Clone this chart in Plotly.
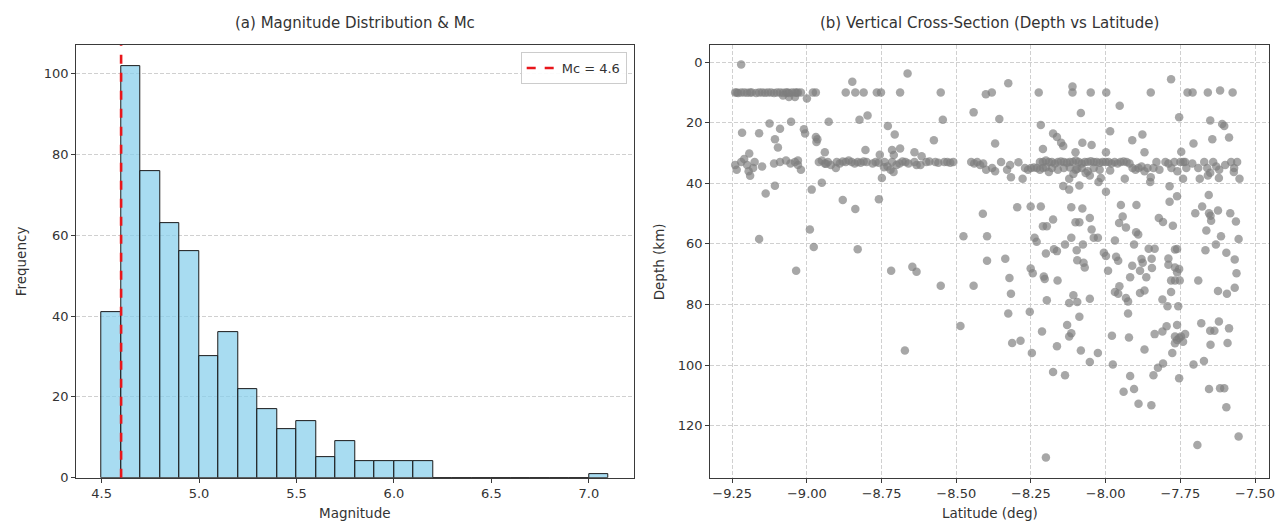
import plotly.graph_objects as go

# ---------------- (a) Magnitude histogram ----------------
BIN_LEFT = [4.5, 4.6, 4.7, 4.8, 4.9, 5.0, 5.1, 5.2, 5.3, 5.4, 5.5, 5.6, 5.7,
            5.8, 5.9, 6.0, 6.1, 6.2, 6.3, 6.4, 6.5, 6.6, 6.7, 6.8, 6.9, 7.0]
COUNTS = [41, 102, 76, 63, 56, 30, 36, 22, 17, 12, 14, 5, 9,
          4, 4, 4, 4, 0, 0, 0, 0, 0, 0, 0, 0, 1]
BIN_WIDTH = 0.1
MC = 4.6
MAG_TICKS = [4.5, 5.0, 5.5, 6.0, 6.5, 7.0]
FREQ_TICKS = [0, 20, 40, 60, 80, 100]

# ---------------- (b) Depth vs latitude (lat, depth km) ----------------
WEST_BAND10 = [(-9.22, 0.8), (-9.24, 10), (-9.235, 10), (-9.23, 10.2), (-9.22, 10), (-9.21, 10),
               (-9.20, 10.1), (-9.19, 10), (-9.185, 10), (-9.17, 10.2), (-9.16, 10), (-9.15, 10),
               (-9.14, 10.1), (-9.13, 10), (-9.12, 10), (-9.11, 10.2), (-9.10, 10), (-9.09, 10),
               (-9.08, 10.1), (-9.07, 10), (-9.065, 10), (-9.06, 10.2), (-9.05, 10), (-9.04, 10),
               (-9.035, 10.1), (-9.03, 10), (-9.02, 10), (-9.08, 11), (-9.06, 11.5), (-9.04, 11.5),
               (-9.00, 12), (-8.98, 10), (-8.97, 10)]
WEST_MID = [(-9.217, 23.3), (-9.16, 23.5), (-9.125, 20.3), (-9.09, 22), (-9.053, 19.7),
            (-9.107, 25.5), (-9.097, 28.2), (-9.01, 22.2), (-9.006, 23.6), (-8.97, 24.7),
            (-8.965, 25.5), (-8.968, 26.4), (-8.927, 19.7)]
WEST_BAND33 = [(-9.24, 34), (-9.235, 35.5), (-9.22, 33), (-9.21, 32), (-9.2, 34), (-9.195, 36),
               (-9.19, 37.5), (-9.18, 35), (-9.175, 33), (-9.15, 34.5), (-9.193, 30.2),
               (-9.11, 33.5), (-9.09, 33), (-9.07, 32.5), (-9.055, 33.5), (-9.04, 33),
               (-9.03, 34), (-9.02, 35.5), (-9.03, 32.5)]
WEST_DEEP = [(-9.138, 43.4), (-9.107, 40.8), (-9.16, 58.4), (-9.036, 68.9), (-8.984, 42.1),
             (-8.95, 39.8), (-8.99, 55.3), (-8.977, 61)]
ZONE_900 = [(-8.96, 33), (-8.95, 32.5), (-8.94, 33.5), (-8.93, 33), (-8.92, 34), (-8.9, 33),
            (-8.89, 33.5), (-8.88, 32.8), (-8.87, 33), (-8.86, 32.5), (-8.85, 33), (-8.84, 33.5),
            (-8.83, 33), (-8.82, 33.2), (-8.81, 32.8), (-8.8, 33), (-8.78, 33.5), (-8.77, 33),
            (-8.76, 33.2), (-8.94, 29.8), (-8.936, 33.6), (-8.903, 35), (-8.87, 10), (-8.838, 10),
            (-8.81, 10), (-8.848, 6.5), (-8.824, 19), (-8.797, 17.6), (-8.804, 29), (-8.766, 10),
            (-8.752, 10), (-8.88, 45.5), (-8.838, 48.5), (-8.83, 61.8), (-8.759, 45.3),
            (-8.749, 38.3), (-8.756, 30.6)]
ZONE_875 = [(-8.729, 21.1), (-8.706, 23.9), (-8.715, 29), (-8.688, 28.5), (-8.709, 30.7),
            (-8.74, 33), (-8.73, 34.5), (-8.72, 35.5), (-8.715, 33), (-8.70, 34), (-8.69, 33.5),
            (-8.68, 32.8), (-8.67, 33), (-8.66, 33.5), (-8.64, 33), (-8.62, 34), (-8.6, 33),
            (-8.59, 32.8), (-8.57, 33), (-8.56, 33.2), (-8.54, 33), (-8.53, 33), (-8.52, 33.2),
            (-8.51, 33), (-8.71, 36.3), (-8.742, 34.7), (-8.688, 10), (-8.663, 3.8), (-8.64, 29.8),
            (-8.616, 31.1), (-8.633, 34), (-8.575, 25.8), (-8.545, 19), (-8.552, 10),
            (-8.718, 68.9), (-8.647, 67.6), (-8.633, 69.2), (-8.672, 95.2), (-8.552, 73.8)]
ZONE_850 = [(-8.476, 57.5), (-8.486, 87.1), (-8.442, 16.6), (-8.442, 73.8),
            (-8.45, 33), (-8.44, 33.5), (-8.43, 33), (-8.42, 34), (-8.41, 33.5), (-8.40, 35.5),
            (-8.38, 35), (-8.37, 36), (-8.35, 33), (-8.33, 35.5), (-8.32, 34),
            (-8.401, 10.6), (-8.381, 10), (-8.356, 18.8), (-8.326, 7), (-8.37, 26.9),
            (-8.411, 50.1), (-8.397, 57.5), (-8.397, 65.6), (-8.336, 64.9), (-8.322, 71.3),
            (-8.317, 76.5), (-8.326, 83), (-8.313, 92.7), (-8.285, 92), (-8.317, 38),
            (-8.296, 47.9), (-8.292, 33.1), (-8.278, 38.5),
            (-8.27, 35), (-8.26, 35.5), (-8.25, 35), (-8.24, 34.8), (-8.23, 35), (-8.22, 35.5),
            (-8.21, 35), (-8.2, 34.7)]
ZONE_825 = [(-8.251, 47.7), (-8.217, 47.7), (-8.254, 82.4), (-8.247, 96), (-8.238, 58),
            (-8.231, 59.3), (-8.251, 68.1), (-8.244, 69.7), (-8.224, 10), (-8.217, 20.8),
            (-8.21, 28.7), (-8.213, 88.9), (-8.21, 54.2), (-8.197, 54.2), (-8.207, 70.8),
            (-8.204, 71.6), (-8.2, 63.2), (-8.197, 78.6), (-8.19, 36.3), (-8.176, 23.6),
            (-8.163, 24.7), (-8.149, 26.6), (-8.142, 27.7), (-8.176, 52), (-8.173, 61.8),
            (-8.163, 62.4), (-8.136, 60.2), (-8.161, 72.1), (-8.176, 102.3), (-8.136, 103.4),
            (-8.163, 93.8), (-8.2, 130.5),
            (-8.22, 33), (-8.21, 33), (-8.20, 32.5), (-8.19, 33), (-8.18, 33), (-8.17, 33.5),
            (-8.16, 33), (-8.15, 32.8), (-8.14, 33), (-8.13, 33.2), (-8.12, 33), (-8.11, 33),
            (-8.10, 32.5), (-8.09, 33), (-8.08, 33.5), (-8.07, 33), (-8.06, 33), (-8.05, 32.7),
            (-8.04, 33), (-8.03, 33), (-8.02, 33.2), (-8.01, 33), (-8.00, 33),
            (-8.18, 35), (-8.16, 35.5), (-8.14, 35), (-8.12, 34.8), (-8.10, 35.5), (-8.08, 35),
            (-8.06, 36), (-8.04, 35), (-8.02, 35.5),
            (-8.111, 8.1), (-8.111, 10), (-8.05, 10), (-7.998, 10), (-8.083, 16.8),
            (-8.101, 29.8), (-8.078, 26.6), (-8.047, 27.4), (-8.108, 36.9), (-8.095, 35.2),
            (-8.067, 36.6), (-8.053, 37.4), (-8.142, 40.9), (-8.122, 42.1), (-8.088, 40.7),
            (-8.122, 38.5), (-8.115, 47.9), (-8.078, 48.3), (-8.101, 52.9), (-8.088, 52.9),
            (-8.053, 51.5), (-8.047, 55.3), (-8.115, 58), (-8.076, 60.2), (-8.097, 62.1),
            (-8.095, 65.4), (-8.07, 67.8), (-8.074, 66.2), (-8.108, 77), (-8.122, 79.5),
            (-8.095, 79.2), (-8.053, 78.1), (-8.129, 86.8), (-8.115, 89.5), (-8.122, 90.6),
            (-8.088, 84.1), (-8.083, 95.2), (-8.053, 99), (-8.026, 96), (-8.04, 58),
            (-8.026, 58), (-8.024, 39.6), (-8.016, 38.3), (-8.006, 62.9), (-7.999, 64)]
ZONE_800 = [(-7.999, 29.8), (-7.999, 42.8), (-7.985, 22.8), (-7.985, 35.8), (-7.992, 68.9),
            (-7.979, 90.3), (-7.976, 99.8), (-7.969, 58.9), (-7.965, 64.3), (-7.958, 65.6),
            (-7.969, 75.9), (-7.958, 76.5), (-7.954, 74), (-7.955, 53.1), (-7.953, 14.4),
            (-7.949, 47.2), (-7.943, 51), (-7.932, 54.6), (-7.94, 108.8), (-7.936, 38.5),
            (-7.932, 77.9), (-7.925, 79), (-7.925, 83), (-7.922, 90.9), (-7.918, 71),
            (-7.911, 67.2), (-7.911, 25.8), (-7.918, 103.6), (-7.905, 107.9), (-7.897, 47.2),
            (-7.905, 60.2), (-7.898, 56.2), (-7.891, 56.9), (-7.89, 112.8), (-7.88, 65),
            (-7.876, 66.2), (-7.885, 68.9), (-7.877, 23.9), (-7.87, 29.8), (-7.885, 76.2),
            (-7.87, 75.4), (-7.864, 71), (-7.87, 94.9), (-7.849, 10), (-7.851, 39.6),
            (-7.849, 38), (-7.856, 61.6), (-7.836, 61.6), (-7.846, 64.9), (-7.845, 68),
            (-7.847, 113.3), (-7.84, 103.4), (-7.836, 89.8), (-7.822, 51.5), (-7.808, 52.8),
            (-7.825, 100.9), (-7.808, 99.5), (-7.81, 88.9), (-7.796, 87.2), (-7.81, 78.4),
            (-7.793, 80.6), (-7.786, 46.1), (-7.79, 64.8), (-7.79, 66.9), (-7.781, 5.7),
            (-7.786, 41), (-7.775, 54), (-7.768, 61.9), (-7.761, 61.7), (-7.768, 67.8),
            (-7.761, 69.4), (-7.754, 68.3), (-7.781, 72.1), (-7.768, 72.1), (-7.752, 72.1),
            (-7.781, 75.9), (-7.777, 96), (-7.768, 90.6), (-7.761, 91.7), (-7.754, 91.1),
            (-7.748, 90.6), (-7.741, 92.3), (-7.768, 92.8), (-7.734, 89.8), (-7.761, 86.8),
            (-7.754, 104.4), (-7.761, 44.3), (-7.754, 18.2), (-7.747, 29.6), (-7.741, 38.5),
            (-7.757, 80.6),
            (-7.99, 33), (-7.98, 33.5), (-7.97, 33), (-7.96, 33.5), (-7.95, 33), (-7.94, 32.8),
            (-7.93, 33), (-7.92, 33.5), (-7.91, 35), (-7.90, 35.5), (-7.89, 35), (-7.88, 34.5),
            (-7.87, 36), (-7.86, 35), (-7.84, 35), (-7.83, 33), (-7.82, 35.5), (-7.80, 33),
            (-7.79, 33.5), (-7.78, 35), (-7.77, 33), (-7.76, 36), (-7.75, 33)]
ZONE_775 = [(-7.726, 10), (-7.709, 10), (-7.706, 26.9), (-7.706, 99.8), (-7.7, 49.9),
            (-7.693, 126.4), (-7.69, 72.1), (-7.68, 86.2), (-7.677, 47.7), (-7.671, 98.7),
            (-7.666, 62.1), (-7.663, 55.6), (-7.658, 10), (-7.655, 43.9), (-7.654, 49.9),
            (-7.649, 50.7), (-7.647, 52.4), (-7.65, 19.3), (-7.643, 25.5), (-7.654, 107.9),
            (-7.65, 88.7), (-7.636, 88.7), (-7.649, 93.3), (-7.631, 60.2), (-7.624, 75.6),
            (-7.621, 85.6), (-7.621, 38.3), (-7.624, 49), (-7.617, 9.4), (-7.61, 20.4),
            (-7.603, 21.1), (-7.614, 57.5), (-7.617, 107.7), (-7.603, 107.7), (-7.596, 62.9),
            (-7.594, 76.5), (-7.596, 113.9), (-7.592, 92.7), (-7.587, 87.9), (-7.587, 24.9),
            (-7.583, 49.9), (-7.575, 10), (-7.568, 74.5), (-7.568, 65.2), (-7.564, 52.6),
            (-7.562, 69.7), (-7.555, 58.4), (-7.555, 123.6), (-7.552, 38.5), (-7.571, 36.3),
            (-7.685, 38.5), (-7.658, 37.4), (-7.734, 33),
            (-7.74, 33), (-7.73, 35), (-7.71, 33.5), (-7.69, 35), (-7.67, 33), (-7.66, 35),
            (-7.65, 36.5), (-7.64, 33), (-7.63, 34.5), (-7.62, 35.5), (-7.60, 34), (-7.58, 33),
            (-7.57, 35), (-7.56, 33)]
LAT_TICKS = [-9.25, -9.0, -8.75, -8.5, -8.25, -8.0, -7.75, -7.5]
DEPTH_TICKS = [0, 20, 40, 60, 80, 100, 120]

groups = [WEST_BAND10, WEST_MID, WEST_BAND33, WEST_DEEP, ZONE_900, ZONE_875,
          ZONE_850, ZONE_825, ZONE_800, ZONE_775]
lat = [p[0] for g in groups for p in g]
depth = [p[1] for g in groups for p in g]

# ---------------- layout geometry ----------------
W, H = 1284, 524
LX = [68.6 / W, 628.6 / W]
RX = [705.7 / W, 1267 / W]
YD = [1 - 477 / H, 1 - 37.7 / H]
FREQ_TOP = 107.1

FONT = "DejaVu Sans"
TXT = "#333333"
FRAME = "#3a3a3a"
GRID = "#d0d0d0"

fig = go.Figure()
fig.add_trace(go.Bar(
    x=BIN_LEFT, y=COUNTS, width=BIN_WIDTH, offset=0,
    marker=dict(color="rgba(135,206,235,0.72)", line=dict(color="#1a1a1a", width=1)),
    showlegend=False, xaxis="x", yaxis="y"))
fig.add_trace(go.Scatter(
    x=[MC, MC], y=[0, FREQ_TOP], mode="lines",
    line=dict(color="#e8161b", width=2.6, dash="dash"),
    name="Mc = 4.6", showlegend=True, xaxis="x", yaxis="y"))
fig.add_trace(go.Scatter(
    x=lat, y=depth, mode="markers",
    marker=dict(color="rgba(125,125,125,0.68)", size=8.5, line=dict(width=0)),
    showlegend=False, xaxis="x2", yaxis="y2"))

axis_common = dict(showline=True, linecolor=FRAME, linewidth=1.3, mirror=True,
                   ticks="outside", ticklen=4, tickcolor=FRAME, zeroline=False,
                   tickfont=dict(family=FONT, size=13, color=TXT))

fig.update_layout(
    width=W, height=H,
    margin=dict(l=0, r=0, t=0, b=0),
    paper_bgcolor="white", plot_bgcolor="white",
    font=dict(family=FONT, size=13, color=TXT),
    xaxis=dict(domain=LX, range=[4.37, 7.23], tickvals=MAG_TICKS, tickformat=".1f",
               showgrid=False, anchor="y", **axis_common),
    yaxis=dict(domain=YD, range=[0, FREQ_TOP], tickvals=FREQ_TICKS, showgrid=True,
               gridcolor=GRID, griddash="4px,2px", gridwidth=1, anchor="x", **axis_common),
    xaxis2=dict(domain=RX, range=[-9.323, -7.453], tickvals=LAT_TICKS, tickformat=".2f",
                showgrid=True, gridcolor=GRID, griddash="4px,2px", gridwidth=1,
                anchor="y2", **axis_common),
    yaxis2=dict(domain=YD, range=[137.2, -5.6], tickvals=DEPTH_TICKS, showgrid=True,
                gridcolor=GRID, griddash="4px,2px", gridwidth=1, anchor="x2", **axis_common),
    legend=dict(x=LX[1] - 7 / W, xanchor="right", y=YD[1] - 7 / H, yanchor="top",
                bgcolor="rgba(255,255,255,0.9)", bordercolor="#cccccc", borderwidth=1,
                font=dict(family=FONT, size=13, color=TXT)),
    bargap=0,
)

ann = [
    dict(text="(a) Magnitude Distribution & Mc", x=(LX[0] + LX[1]) / 2, y=1 - 15 / H, size=15),
    dict(text="(b) Vertical Cross-Section (Depth vs Latitude)", x=(RX[0] + RX[1]) / 2,
         y=1 - 15 / H, size=15),
    dict(text="Magnitude", x=(LX[0] + LX[1]) / 2, y=1 - 513 / H, size=13.5),
    dict(text="Latitude (deg)", x=(RX[0] + RX[1]) / 2, y=1 - 513 / H, size=13.5),
    dict(text="Frequency", x=13 / W, y=(YD[0] + YD[1]) / 2, textangle=-90, size=13.5),
    dict(text="Depth (km)", x=654 / W, y=(YD[0] + YD[1]) / 2, textangle=-90, size=13.5),
]
for a in ann:
    size = a.pop("size")
    fig.add_annotation(xref="paper", yref="paper", showarrow=False,
                       xanchor="center", yanchor="middle",
                       font=dict(family=FONT, color=TXT, size=size), **a)

fig.write_html("out.html")
